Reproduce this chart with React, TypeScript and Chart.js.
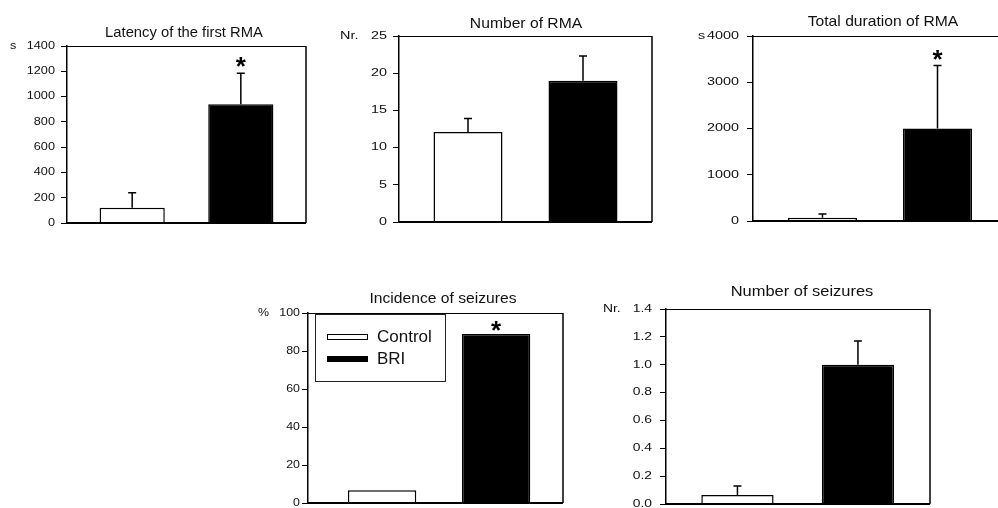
import React, { useEffect, useRef } from "react";
import { Chart, registerables } from "chart.js";

Chart.register(...registerables);

// ---------- data ----------
const groups = ["Control", "BRI"];
const groupColors = ["#ffffff", "#000000"];

const titles = [
  "Latency of the first RMA",
  "Number of RMA",
  "Total duration of RMA",
  "Incidence of seizures",
  "Number of seizures",
];
const units = ["s", "Nr.", "s", "%", "Nr."];

const latencyMean = [120, 940];
const latencyErr = [120, 245];
const latencySig = [false, true];
const latencyTicks = [0, 200, 400, 600, 800, 1000, 1200, 1400];

const rmaCountMean = [12.1, 19.0];
const rmaCountErr = [1.8, 3.3];
const rmaCountSig = [false, false];
const rmaCountTicks = [0, 5, 10, 15, 20, 25];

const rmaDurationMean = [70, 2000];
const rmaDurationErr = [80, 1360];
const rmaDurationSig = [false, true];
const rmaDurationTicks = [0, 1000, 2000, 3000, 4000];

const seizureIncidence = [6.7, 88.9];
const seizureIncidenceErr = [null, null];
const seizureIncidenceSig = [false, true];
const seizureIncidenceTicks = [0, 20, 40, 60, 80, 100];

const seizureCountMean = [0.065, 1.0];
const seizureCountErr = [0.065, 0.17];
const seizureCountSig = [false, false];
const seizureCountTicks = [0, 0.2, 0.4, 0.6, 0.8, 1.0, 1.2, 1.4];

// ---------- layout / style per panel ----------
type Panel = {
  title: string;
  unit: string;
  mean: number[];
  err: (number | null)[];
  sig: boolean[];
  ticks: number[];
  decimals: number;
  area: [number, number, number, number]; // left, top, right, bottom
  xRange: [number, number];
  rightBorder: boolean;
  tickFs: number;
  tickSx: number;
  labelGap: number;
  unitX: number;
  titleX: number;
  titleY: number;
  titleSx: number;
  legend?: boolean;
};

const W = 998;
const H = 508;
const FONT = '"Liberation Sans", Arial, Helvetica, sans-serif';

const panels: Panel[] = [
  {
    title: titles[0], unit: units[0], mean: latencyMean, err: latencyErr, sig: latencySig,
    ticks: latencyTicks, decimals: 0, area: [67, 46, 306, 223], xRange: [-0.6, 1.6],
    rightBorder: true, tickFs: 10.5, tickSx: 1.21, labelGap: 12, unitX: 10,
    titleX: 184, titleY: 37, titleSx: 1.02,
  },
  {
    title: titles[1], unit: units[1], mean: rmaCountMean, err: rmaCountErr, sig: rmaCountSig,
    ticks: rmaCountTicks, decimals: 0, area: [399, 36, 652, 222], xRange: [-0.6, 1.6],
    rightBorder: true, tickFs: 10.5, tickSx: 1.37, labelGap: 12, unitX: 340,
    titleX: 526, titleY: 28, titleSx: 1.08,
  },
  {
    title: titles[2], unit: units[2], mean: rmaDurationMean, err: rmaDurationErr, sig: rmaDurationSig,
    ticks: rmaDurationTicks, decimals: 0, area: [753, 36, 998, 221], xRange: [-0.604, 1.526],
    rightBorder: false, tickFs: 10.5, tickSx: 1.37, labelGap: 14, unitX: 698,
    titleX: 883, titleY: 26, titleSx: 1.08,
  },
  {
    title: titles[3], unit: units[3], mean: seizureIncidence, err: seizureIncidenceErr, sig: seizureIncidenceSig,
    ticks: seizureIncidenceTicks, decimals: 0, area: [308, 313, 563, 503], xRange: [-0.65, 1.587],
    rightBorder: true, tickFs: 10.5, tickSx: 1.18, labelGap: 8, unitX: 258,
    titleX: 443, titleY: 303, titleSx: 1.08, legend: true,
  },
  {
    title: titles[4], unit: units[4], mean: seizureCountMean, err: seizureCountErr, sig: seizureCountSig,
    ticks: seizureCountTicks, decimals: 1, area: [666, 309, 930, 504], xRange: [-0.593, 1.598],
    rightBorder: true, tickFs: 10.5, tickSx: 1.32, labelGap: 14, unitX: 603,
    titleX: 802, titleY: 296, titleSx: 1.135,
  },
];

function makeDecor(p: Panel) {
  return {
    id: "decor",
    afterDraw(chart: any) {
      const ctx: CanvasRenderingContext2D = chart.ctx;
      const xs = chart.scales.x;
      const ys = chart.scales.y;
      const a = chart.chartArea;
      ctx.save();
      ctx.strokeStyle = "#000";
      ctx.fillStyle = "#000";

      // error bars (upper half only)
      ctx.lineWidth = 1.5;
      p.mean.forEach((m, i) => {
        const e = p.err[i];
        if (e == null) return;
        const x = xs.getPixelForValue(i);
        const y0 = ys.getPixelForValue(m);
        const y1 = ys.getPixelForValue(m + e);
        ctx.beginPath();
        ctx.moveTo(x, y0);
        ctx.lineTo(x, y1);
        ctx.moveTo(x - 4, y1);
        ctx.lineTo(x + 4, y1);
        ctx.stroke();
      });

      // significance stars
      ctx.font = `bold 26px ${FONT}`;
      ctx.textAlign = "center";
      ctx.textBaseline = "alphabetic";
      p.mean.forEach((m, i) => {
        if (!p.sig[i]) return;
        const e = p.err[i] ?? 0;
        const x = xs.getPixelForValue(i);
        const top = ys.getPixelForValue(m + e);
        const mt = ctx.measureText("*");
        const off = (mt.actualBoundingBoxAscent - mt.actualBoundingBoxDescent) / 2;
        const cy = top - (e ? 11 : 8);
        ctx.fillText("*", x, cy + off);
      });

      // frame: top, right, bottom
      ctx.lineWidth = 1;
      ctx.beginPath();
      ctx.moveTo(a.left, a.top + 0.5);
      ctx.lineTo(a.right, a.top + 0.5);
      ctx.stroke();
      if (p.rightBorder) {
        ctx.lineWidth = 1.5;
        ctx.beginPath();
        ctx.moveTo(a.right, a.top);
        ctx.lineTo(a.right, a.bottom);
        ctx.stroke();
      }
      ctx.lineWidth = 2;
      ctx.beginPath();
      ctx.moveTo(a.left - 1, a.bottom);
      ctx.lineTo(a.right, a.bottom);
      ctx.stroke();

      // tick labels
      ctx.fillStyle = "#111";
      ctx.font = `${p.tickFs}px ${FONT}`;
      ctx.textBaseline = "middle";
      p.ticks.forEach((v) => {
        const y = ys.getPixelForValue(v);
        ctx.save();
        ctx.translate(a.left - p.labelGap, y);
        ctx.scale(p.tickSx, 1);
        ctx.textAlign = "right";
        ctx.fillText(v.toFixed(p.decimals), 0, 0);
        ctx.restore();
      });

      // unit label
      ctx.save();
      ctx.translate(p.unitX, ys.getPixelForValue(p.ticks[p.ticks.length - 1]));
      ctx.scale(p.tickSx, 1);
      ctx.textAlign = "left";
      ctx.fillText(p.unit, 0, 0);
      ctx.restore();

      // title
      ctx.save();
      ctx.font = `14.5px ${FONT}`;
      ctx.textBaseline = "alphabetic";
      ctx.textAlign = "center";
      ctx.translate(p.titleX, p.titleY);
      ctx.scale(p.titleSx, 1);
      ctx.fillText(p.title, 0, 0);
      ctx.restore();

      // legend
      if (p.legend) {
        ctx.fillStyle = "#fff";
        ctx.fillRect(315, 314, 130, 67);
        ctx.strokeStyle = "#222";
        ctx.lineWidth = 1;
        ctx.strokeRect(315.5, 314.5, 130, 67);
        const rows = [337, 359];
        groups.forEach((g, i) => {
          const y = rows[i];
          ctx.fillStyle = groupColors[i];
          ctx.fillRect(327, y - 2.5, 41, 5);
          ctx.strokeStyle = "#000";
          ctx.lineWidth = 1;
          ctx.strokeRect(327.5, y - 2.5, 40, 5);
          ctx.fillStyle = "#111";
          ctx.font = `17px ${FONT}`;
          ctx.textAlign = "left";
          ctx.textBaseline = "middle";
          ctx.fillText(g, 377, y + 0.5);
        });
      }
      ctx.restore();
    },
  };
}

function PanelChart({ p }: { p: Panel }) {
  const ref = useRef<HTMLCanvasElement | null>(null);
  useEffect(() => {
    if (!ref.current) return;
    const [l, t, r, b] = p.area;
    const yW = 10;
    const chart = new Chart(ref.current, {
      type: "bar",
      data: {
        datasets: [
          {
            label: p.title,
            data: p.mean.map((v, i) => ({ x: i, y: v })) as any,
            backgroundColor: groupColors,
            borderColor: "#000",
            borderWidth: 1.5,
            borderSkipped: "bottom",
            barPercentage: 0.6,
            categoryPercentage: 1,
          },
        ],
      },
      options: {
        animation: false,
        responsive: false,
        maintainAspectRatio: false,
        events: [],
        layout: {
          padding: { left: l - yW, top: t, right: W - r, bottom: H - b },
        },
        plugins: {
          legend: { display: false },
          title: { display: false },
          tooltip: { enabled: false },
        },
        scales: {
          x: {
            type: "linear",
            display: false,
            min: p.xRange[0],
            max: p.xRange[1],
            offset: false,
            afterBuildTicks: (s: any) => {
              s.ticks = groups.map((_, i) => ({ value: i }));
            },
          },
          y: {
            type: "linear",
            min: 0,
            max: p.ticks[p.ticks.length - 1],
            afterBuildTicks: (s: any) => {
              s.ticks = p.ticks.map((v) => ({ value: v }));
            },
            afterFit: (s: any) => {
              s.width = yW;
            },
            grid: {
              drawOnChartArea: false,
              drawTicks: true,
              tickLength: 6,
              color: "#000",
              lineWidth: 1,
            },
            border: { display: true, color: "#000", width: 1.5 },
            ticks: { display: false },
          },
        },
      } as any,
      plugins: [makeDecor(p)],
    });
    return () => chart.destroy();
  }, [p]);
  return (
    <canvas
      ref={ref}
      width={W}
      height={H}
      style={{ position: "absolute", left: 0, top: 0, width: W, height: H }}
    />
  );
}

export default function App() {
  return (
    <div
      style={{
        position: "absolute",
        left: 0,
        top: 0,
        width: W,
        height: H,
        background: "#fff",
        overflow: "hidden",
      }}
    >
      {panels.map((p, i) => (
        <PanelChart key={i} p={p} />
      ))}
    </div>
  );
}
